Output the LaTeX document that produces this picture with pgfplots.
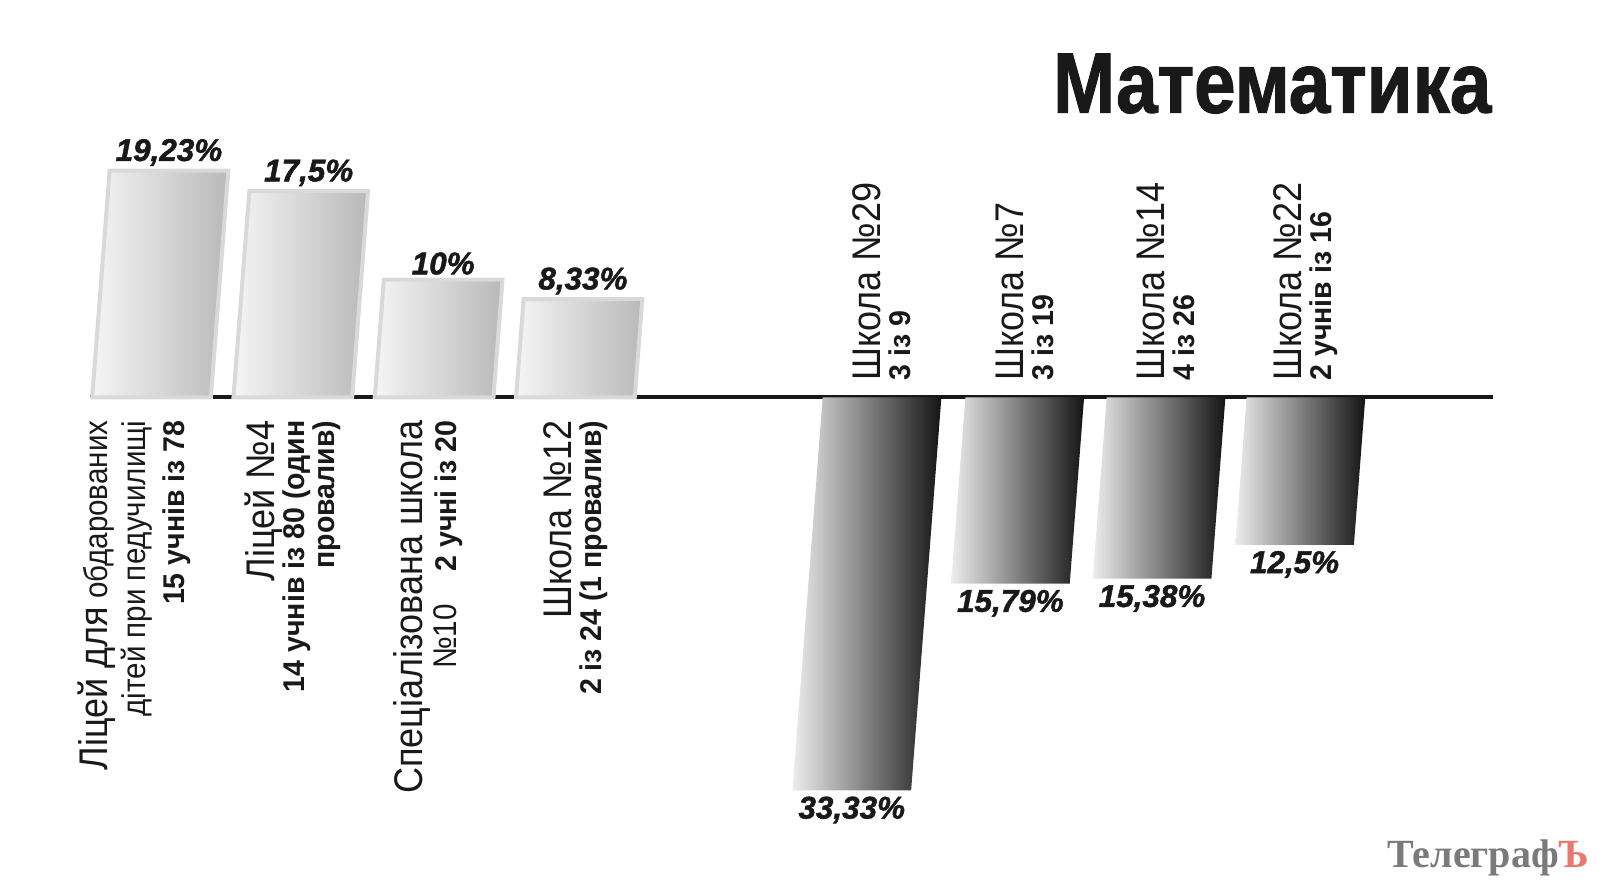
\documentclass[border=0pt]{standalone}
\usepackage{fontspec}
\setmainfont{Liberation Sans}
\newfontfamily\lf[FakeStretch=0.9]{Liberation Sans}
\newfontfamily\lfb[FakeStretch=0.95]{Liberation Sans Bold}
\newfontfamily\valfont[FakeBold=1.5]{Liberation Sans Bold Italic}
\newfontfamily\titlefont[FakeStretch=0.87,FakeBold=1.2]{Liberation Sans Bold}
\newfontfamily\logofont{Liberation Serif Bold}
\usepackage{pgfplots}
\pgfplotsset{compat=1.18}
\definecolor{logored}{RGB}{232,120,112}
% name, small name part, bold count
\newcommand\nm[1]{{\lf\fontsize{14}{14}\selectfont #1}}
\newcommand\sm[1]{{\lf\fontsize{11.5}{11.5}\selectfont #1}}
\newcommand\bd[1]{{\lfb\fontsize{10.5}{10.5}\selectfont #1}}
\pgfplotsset{
  bar base/.style={ybar, bar width=0.84, xslant=0.077, xshift=-13.2pt,
    point meta=explicit symbolic,
    nodes near coords={\pgfplotspointmeta\%}},
  posbar/.style={bar base, draw=gray!30, line width=1.4pt,
    left color=white!96!black, right color=gray!55,
    every node near coord/.append style={anchor=south, inner sep=1pt,
      font=\valfont\fontsize{11}{11}\selectfont, text=black!90}},
  negbar/.style={bar base, draw=none,
    left color=gray!14, right color=black!92,
    every node near coord/.append style={anchor=north, inner sep=2pt,
      font=\valfont\fontsize{11}{11}\selectfont, text=black!90}},
}
\begin{document}
\begin{tikzpicture}
\begin{axis}[
  x=49.455pt, y=4.1265pt,
  xmin=0.564, xmax=10.493, ymin=-41.44, ymax=33.71,
  axis x line=middle, axis y line=none,
  x axis line style={-, line width=1.4pt, draw=black!90},
  clip=false,
  major tick length=0pt,
  ytick=\empty,
  xtick={1,2,3,4},
  xticklabels={
    {\nm{Ліцей для} \sm{обдарованих}\\[1pt]\sm{дітей при педучилищі}\\[3pt]\bd{15 учнів із 78}\\[4pt]\mbox{}},
    {\nm{Ліцей №4}\\\bd{14 учнів із 80 (один}\\\bd{провалив)}},
    {\nm{Спеціалізована школа}\\\sm{№10}\quad\bd{2 учні із 20}\\[-4pt]\mbox{}},
    {\nm{Школа №12}\\\bd{2 із 24 (1 провалив)}}},
  xticklabel style={inner sep=0pt, yshift=-7.9pt, rotate=90, anchor=east,
    align=right, font=\lf\fontsize{11.5}{10.5}\selectfont, text=black!90},
  extra x ticks={6.17,7.18,8.18,9.17},
  extra x tick labels={
    {\nm{Школа №29}\\\bd{3 із 9}},
    {\nm{Школа №7}\\\bd{3 із 19}},
    {\nm{Школа №14}\\\bd{4 із 26}},
    {\nm{Школа №22}\\\bd{2 учнів із 16}}},
  extra x tick style={xticklabel style={anchor=west, align=left, xshift=13.6pt}},
]
% above the line: one plot per bar, so that each bar has its own shading
\addplot[posbar] coordinates {(1,19.23)[19,23]};
\addplot[posbar] coordinates {(2,17.5)[17,5]};
\addplot[posbar] coordinates {(3,10)[10]};
\addplot[posbar] coordinates {(4,8.33)[8,33]};
% below the line
\addplot[negbar] coordinates {(6.17,-33.33)[33,33]};
\addplot[negbar] coordinates {(7.18,-15.79)[15,79]};
\addplot[negbar] coordinates {(8.18,-15.38)[15,38]};
\addplot[negbar] coordinates {(9.17,-12.5)[12,5]};
\node[anchor=base east, inner sep=0pt, font=\titlefont\fontsize{30}{30}\selectfont, text=black!90]
  at (axis cs:10.486,24.15) {Математика};
\node[anchor=base east, inner sep=0pt, font=\logofont\fontsize{14}{14}\selectfont, text=black!52]
  at (axis cs:11.18,-39.91) {Телеграф\textcolor{logored}{Ъ}};
\coordinate (bbsw) at (axis cs:-0.073,-41.44);
\coordinate (bbne) at (axis cs:11.293,33.71);
\end{axis}
\pgfresetboundingbox
\path[use as bounding box] (bbsw) rectangle (bbne);
\end{tikzpicture}
\end{document}
